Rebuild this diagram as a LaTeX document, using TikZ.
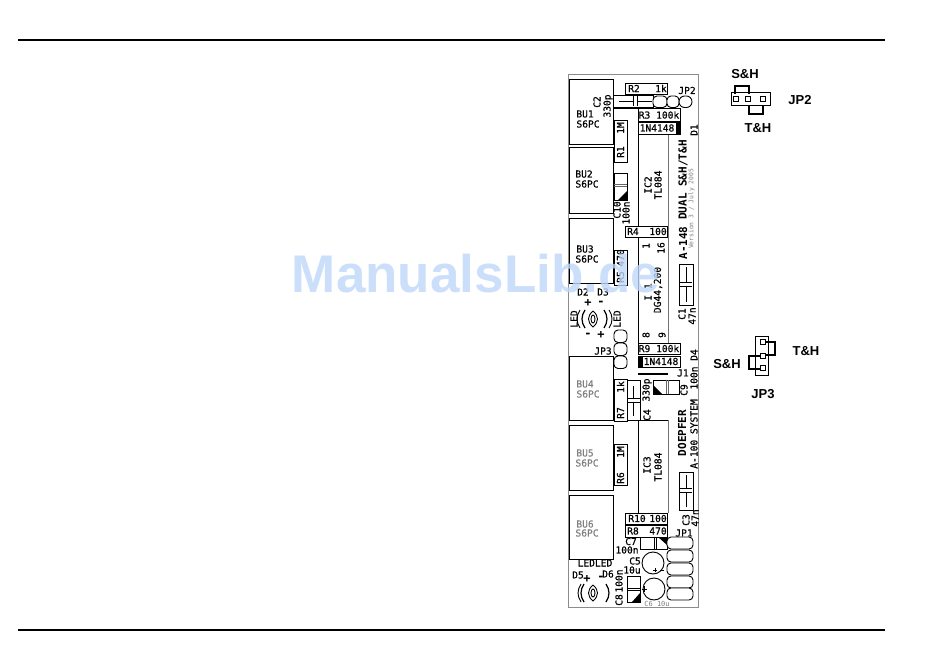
\documentclass[tikz,border=0pt]{standalone}
\usepackage{fontspec}
\setmainfont{Liberation Sans}
\setmonofont{DejaVu Sans Mono}
\newfontfamily\silkfont[FakeBold=0.5]{DejaVu Sans Mono}
\definecolor{markblue}{RGB}{190,216,250}
\tikzset{
  part/.style={draw=black,line width=0.9pt,fill=white},
  edgeline/.style={draw=black!55,line width=0.9pt},
  silk/.style={inner sep=0pt,font=\silkfont\fontsize{9.6}{10}\selectfont},
  silkgray/.style={silk,text=black!50},
  vsilk/.style={silk,rotate=90},
  vgray/.style={silkgray,rotate=90},
  vbold/.style={vsilk,font=\ttfamily\bfseries\fontsize{11}{11}\selectfont},
  signmark/.style={silk,font=\ttfamily\bfseries\fontsize{12}{12}\selectfont},
  jumperlabel/.style={inner sep=0pt,font=\bfseries\fontsize{13}{13}\selectfont},
  jumperwire/.style={draw=black,line width=2.2pt},
  pad/.style={draw=black,line width=0.9pt,fill=white,rounded corners=4pt},
  pin/.style={draw=black,line width=0.7pt,fill=white},
}
\begin{document}
\begin{tikzpicture}[x=1pt,y=-1pt]
  \useasboundingbox (0,0) rectangle (950,655);
  \fill[white] (0,0) rectangle (950,655);
  % page rules
  \draw[line width=1.5pt] (18,40) -- (885,40);
  \draw[line width=1.5pt] (18,630) -- (885,630);
  % board outline
  \draw[draw=black!45,line width=1pt] (568,75) rectangle (698,607);
  % sockets
  \draw[part] (569,79) rectangle (613,144);
  \draw[part] (569,147) rectangle (613,213);
  \draw[part] (569,218) rectangle (613,283);
  \draw[part] (569,356) rectangle (613,420);
  \draw[part] (569,425) rectangle (613,490);
  \draw[part] (569,495) rectangle (613,559);
  \node[silk] (bua) at (585,114) {BU1};
  \node[silk] (bub) at (584,174) {BU2};
  \node[silk] (buc) at (585,249) {BU3};
  \node[silkgray] (bud) at (585,384) {BU4};
  \node[silkgray] (bue) at (585,453) {BU5};
  \node[silkgray] (buf) at (585,524) {BU6};
  \node[silk] (spa) at (588,124) {S6PC};
  \node[silk] (spb) at (587,184) {S6PC};
  \node[silk] (spc) at (587,259) {S6PC};
  \node[silkgray] (spd) at (588,394) {S6PC};
  \node[silkgray] (spe) at (587,463) {S6PC};
  \node[silkgray] (spf) at (587,533) {S6PC};
  % ICs
  \draw[draw=black,line width=0.9pt] (613,108) -- (638,108) -- (638,345);
  \draw[edgeline] (668,134) -- (668,345);
  \draw[draw=black,line width=0.9pt] (613,420) -- (668,420);
  \draw[draw=black,line width=0.9pt] (638,420) -- (638,513);
  \draw[edgeline] (668,420) -- (668,513);
  \draw[line width=0.8pt] (648,226) arc (180:0:5);
  \draw[line width=0.8pt] (648,237) arc (180:360:5);
  \draw[line width=0.8pt] (648,513) arc (180:0:5);
  \node[vsilk] (ictwo) at (648,185) {IC2};
  \node[vsilk] (tlone) at (658,185) {TL084};
  \node[vsilk] (icthree) at (647,465) {IC3};
  \node[vsilk] (tltwo) at (658,467) {TL084};
  \node[vsilk] (ione) at (648,292) {I 1};
  \node[vsilk] (dg) at (658,290) {DG44,200};
  \node[vsilk] (pa) at (646,246) {1};
  \node[vsilk] (pb) at (661,248) {16};
  \node[vsilk] (pc) at (646,335) {8};
  \node[vsilk] (pd) at (662,335) {9};
  % resistors and diodes
  \draw[part] (625,83) rectangle (667,94);
  \node[silk] (rtwo) at (634,88.5) {R2};
  \node[silk] (rtwov) at (661,88.5) {1k};
  \draw[part] (638,108) rectangle (680,121);
  \node[silk] (rthree) at (659,115) {R3 100k};
  \draw[part] (638,122) rectangle (680,134);
  \fill (676,122) rectangle (681,134);
  \node[silk] (dione) at (657,128) {1N4148};
  \draw[part] (614,120) rectangle (627,162);
  \node[vsilk] (rone) at (620.5,152) {R1};
  \node[vsilk] (ronev) at (620.5,128) {1M};
  \draw[part] (625,226) rectangle (667,237);
  \node[silk] (rfour) at (633,231.5) {R4};
  \node[silk] (rfourv) at (658,231.5) {100};
  \draw[part] (614,250) rectangle (627,285);
  \node[vsilk] (rfive) at (620.5,277) {R5};
  \node[vsilk] (rfivev) at (620.5,258) {470};
  \draw[part] (638,343) rectangle (680,354);
  \node[silk] (rnine) at (659,348.5) {R9 100k};
  \draw[part] (638,356) rectangle (680,367);
  \fill (638,356) rectangle (643,367);
  \node[silk] (ditwo) at (661,361.5) {1N4148};
  \draw[part] (614,379) rectangle (627,421);
  \node[vsilk] (rseven) at (620.5,413) {R7};
  \node[vsilk] (rsevenv) at (620.5,387) {1k};
  \draw[part] (614,444) rectangle (627,485);
  \node[vsilk] (rsix) at (620.5,478) {R6};
  \node[vsilk] (rsixv) at (620.5,452) {1M};
  \draw[part] (625,513) rectangle (667,524);
  \node[silk] (rten) at (637,518.5) {R10};
  \node[silk] (rtenv) at (658,518.5) {100};
  \draw[part] (625,525) rectangle (667,537);
  \node[silk] (reight) at (633,531) {R8};
  \node[silk] (reightv) at (658,531) {470};
  % capacitors
  \draw[part] (613,95) rectangle (653,107);
  \draw[line width=0.9pt] (619,101) -- (633,101) (637,101) -- (652,101) (633,96) -- (633,106) (637,96) -- (637,106);
  \node[vsilk] (ctwo) at (597,102) {C2};
  \node[vsilk] (ctwov) at (608,106) {330p};
  \draw[part] (614,173) rectangle (627,200);
  \draw[draw=black!60,line width=1pt] (614,185) -- (627,185) (614,187) -- (627,187);
  \fill (627,191) -- (627,200) -- (618,200) -- cycle;
  \node[vsilk] (cten) at (617,210) {C10};
  \node[vsilk] (ctenv) at (626,213) {100n};
  \draw[part] (679,264) rectangle (693,305);
  \draw[line width=0.9pt] (686,267) -- (686,282) (686,286) -- (686,302) (680,282) -- (692,282) (680,286) -- (692,286);
  \node[vsilk] (cone) at (682,314) {C1};
  \node[vsilk] (conev) at (692,316) {47n};
  \draw[part] (627,380) rectangle (640,420);
  \draw[line width=0.9pt] (633.5,386) -- (633.5,398) (633.5,402) -- (633.5,416) (627,398) -- (640,398) (627,402) -- (640,402);
  \node[vsilk] (cfour) at (647,415) {C4};
  \node[vsilk] (cfourv) at (647,390) {330p};
  \draw[part] (653,380) rectangle (679,394);
  \draw[draw=black!60,line width=1pt] (666,380) -- (666,394) (668,380) -- (668,394);
  \fill (653,385) -- (653,394) -- (662,394) -- cycle;
  \node[vsilk] (cnine) at (684,390) {C9};
  \node[vsilk] (cninev) at (694,378) {100n};
  \draw[part] (679,472) rectangle (693,510);
  \draw[line width=0.9pt] (686,475) -- (686,488) (686,492) -- (686,507) (680,488) -- (692,488) (680,492) -- (692,492);
  \node[vsilk] (cthree) at (686,520) {C3};
  \node[vsilk] (cthreev) at (695,518) {47n};
  \draw[part] (640,537) rectangle (667,549);
  \draw[line width=1pt] (654,537) -- (654,549) (656,537) -- (656,549);
  \fill (667,537) -- (658,537) -- (667,545) -- cycle;
  \node[silk] (cseven) at (631,541.5) {C7};
  \node[silk] (csevenv) at (627,550) {100n};
  \draw[part] (627,576) rectangle (640,602);
  \draw[line width=1pt] (627,588) -- (640,588) (627,590) -- (640,590);
  \fill (640,593) -- (640,602) -- (632,602) -- cycle;
  \node[vsilk] (ceight) at (619,600) {C8};
  \node[vsilk] (ceightv) at (619,581) {100n};
  \draw[part] (653,563) circle (11);
  \draw[part] (654,589) circle (11);
  \draw[line width=0.6pt] (653,570) -- (657,570) (655,568) -- (655,572) (660,570) -- (664,570);
  \draw[line width=0.6pt] (642,589) -- (647,589) (644.5,586) -- (644.5,592);
  \node[silk] (cfive) at (635,561) {C5};
  \node[silk] (cfivev) at (632,570) {10u};
  \node[silkgray,font=\ttfamily\fontsize{7}{7}\selectfont] (csix) at (657,603.5) {C6 10u};
  % jumper pads on the board
  \draw[pad] (653,96) rectangle (667,107.5);
  \draw[pad] (667,96) rectangle (679,107.5);
  \draw[pad,rounded corners=5.7pt] (679,96) rectangle (692,107.5);
  \node[silk] (jptwo) at (687,90.5) {JP2};
  \foreach \y in {330,343,356}{
    \draw[pad] (614,\y) rectangle (627,\y+12.5);
  }
  \node[silk] (jpthree) at (603,351) {JP3};
  \foreach \y in {537,550,563,576,588}{
    \draw[pad] (667,\y) rectangle (693,\y+12);
  }
  \node[silk] (jpone) at (684,533) {JP1};
  \draw[line width=2pt] (638,374) -- (668,374);
  \node[silk] (jone) at (683,373) {J1};
  % upper LEDs
  \node[silk] (dtwo) at (583,292) {D2};
  \node[silk] (dthree) at (603,292) {D3};
  \node[signmark] (pla) at (588,303) {+};
  \node[signmark] (mia) at (601,303) {-};
  \node[signmark] (mib) at (588,335) {-};
  \node[signmark] (plb) at (601,335) {+};
  \node[vsilk] (leda) at (574,319) {LED};
  \node[vsilk] (ledb) at (617,319) {LED};
  \draw[line width=0.9pt] (593,311) .. controls (587,316) and (587,322) .. (593,327) .. controls (599,322) and (599,316) .. (593,311);
  \draw[line width=0.9pt] (593,319) ellipse (2 and 4);
  \draw[line width=1.2pt] (585,310) .. controls (581,316) and (581,322) .. (585,328);
  \draw[line width=0.9pt] (580,310) .. controls (576,316) and (576,322) .. (580,328);
  \draw[line width=1.2pt] (604,310) .. controls (608,316) and (608,322) .. (604,328);
  \draw[line width=0.9pt] (609,310) .. controls (613,316) and (613,322) .. (609,328);
  % lower LEDs
  \node[silk] (ledtext) at (595,563) {LEDLED};
  \node[silk] (dfive) at (578,575) {D5};
  \node[silk] (dsix) at (608,574) {D6};
  \node[signmark] (plc) at (587,579) {+};
  \node[signmark] (mic) at (601,578) {-};
  \draw[line width=0.9pt] (593,585) .. controls (587,590) and (587,596) .. (593,601) .. controls (599,596) and (599,590) .. (593,585);
  \draw[line width=0.9pt] (593,593) ellipse (2 and 4);
  \draw[line width=1.2pt] (584,584) .. controls (580,590) and (580,596) .. (584,602);
  \draw[line width=0.9pt] (581,584) .. controls (577,590) and (577,596) .. (581,602);
  \draw[line width=1.2pt] (606,584) .. controls (610,590) and (610,596) .. (606,602);
  % board titles
  \node[vbold] (dual) at (683,180) {DUAL S\&H/T\&H};
  \node[vbold] (afour) at (683,243) {A-148};
  \node[vgray,font=\ttfamily\fontsize{6.3}{7}\selectfont] (version) at (691.5,209) {Version 3 / July 2005};
  \node[vsilk] (done) at (694,130) {D1};
  \node[vsilk] (dfour) at (694,355) {D4};
  \node[vbold] (doepfer) at (682,433) {DOEPFER};
  \node[vsilk] (system) at (694,434) {A-100 SYSTEM};
  % JP2 drawing
  \draw[part,line width=0.7pt] (731,92) rectangle (770,105);
  \foreach \x in {736,748,763}{
    \draw[pin] (\x-2.2,96) rectangle (\x+2.2,101);
  }
  \draw[jumperwire] (735,94) -- (735,86) -- (749,86) -- (749,94);
  \draw[jumperwire] (749,105) -- (749,114) -- (763,114) -- (763,105);
  \node[jumperlabel] (shtop) at (745,74) {S\&H};
  \node[jumperlabel] (thtop) at (758,128) {T\&H};
  \node[jumperlabel] (jptwolabel) at (800,100) {JP2};
  % JP3 drawing
  \draw[part,line width=0.7pt] (755,336) rectangle (768,375);
  \foreach \y in {342,356,368}{
    \draw[pin] (760,\y-2.5) rectangle (765,\y+2.5);
  }
  \draw[jumperwire] (765,342) -- (775,342) -- (775,355) -- (765,355);
  \draw[jumperwire] (760,356) -- (749,356) -- (749,369) -- (760,369);
  \node[jumperlabel] (thside) at (806,351) {T\&H};
  \node[jumperlabel] (shside) at (727,364) {S\&H};
  \node[jumperlabel] (jpthreelabel) at (763,394) {JP3};
  % watermark
  \node[inner sep=0pt,text=markblue,opacity=0.8,font=\bfseries\fontsize{53}{53}\selectfont] (mark) at (476,274) {ManualsLib.de};
\end{tikzpicture}
\end{document}
